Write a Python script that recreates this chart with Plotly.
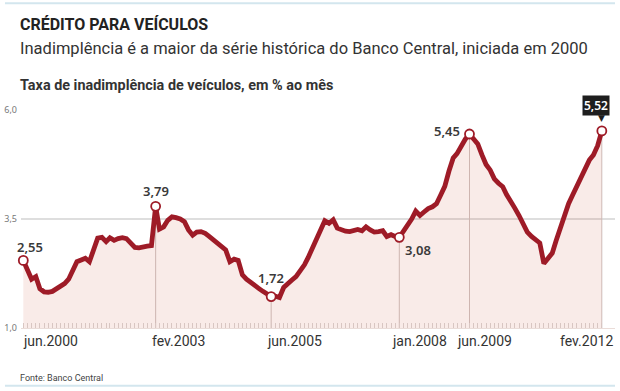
import plotly.graph_objects as go
import pandas as pd

# ---------------- data ----------------
start_month = "2000-06-01"
rate = [
    2.55, 2.35, 2.12, 2.18, 1.90, 1.83, 1.82, 1.84, 1.90, 1.95,
    2.02, 2.12, 2.35, 2.52, 2.56, 2.60, 2.52, 2.80, 3.06, 3.08,
    2.98, 3.07, 3.01, 3.05, 3.07, 3.05, 2.96, 2.85, 2.84, 2.87,
    2.88, 2.89, 3.79,
    3.27, 3.32, 3.47, 3.55, 3.53, 3.50, 3.44, 3.25, 3.13, 3.20,
    3.21, 3.17, 3.10, 3.02, 2.92, 2.84, 2.79, 2.52, 2.58, 2.55,
    2.22, 2.12, 2.04, 1.95, 1.91, 1.84, 1.78, 1.72,
    1.73, 1.70, 1.93, 2.00, 2.10, 2.18, 2.30, 2.45, 2.62, 2.85,
    3.05, 3.25, 3.46, 3.40, 3.48, 3.29, 3.25, 3.22, 3.21, 3.24,
    3.26, 3.23, 3.32, 3.25, 3.20, 3.21, 3.23, 3.10, 3.14, 3.10,
    3.08,
    3.22, 3.35, 3.50, 3.68, 3.58, 3.66, 3.74, 3.78,
    3.85, 4.05, 4.25, 4.60, 4.90, 5.00, 5.20, 5.33, 5.45,
    5.35, 5.22, 4.97, 4.75, 4.62, 4.42, 4.32, 4.24, 4.06, 3.92,
    3.75, 3.58, 3.40, 3.20, 3.10, 3.04, 2.95, 2.48, 2.60, 2.72,
    3.00, 3.30, 3.62, 3.85, 4.05, 4.25, 4.45, 4.70, 4.85, 4.97,
    5.18, 5.52,
]
months = pd.date_range(start_month, periods=len(rate), freq="MS")

key_dates = ["2000-06-01", "2003-02-01", "2005-06-01", "2008-01-01", "2009-06-01", "2012-02-01"]
key_values = [2.55, 3.79, 1.72, 3.08, 5.45, 5.52]
key_labels = ["2,55", "3,79", "1,72", "3,08", "5,45", "5,52"]

tick_labels = ["jun.2000", "fev.2003", "jun.2005", "jan.2008", "jun.2009", "fev.2012"]
y_ticks = [1.0, 3.5, 6.0]
y_tick_text = ["1,0", "3,5", "6,0"]

# ---------------- style ----------------
TXT = "Roboto, Liberation Sans, sans-serif"
NUM = "Noto Sans, Liberation Sans, sans-serif"
RED = "#9e1b27"

fig = go.Figure()

# vertical guide lines from highlighted points to the baseline
gx, gy = [], []
for d, v in zip(key_dates[1:], key_values[1:]):
    gx += [d, d, None]
    gy += [y_ticks[0], v, None]
fig.add_trace(go.Scatter(x=gx, y=gy, mode="lines",
                         line=dict(color="#cfc3c1", width=1),
                         hoverinfo="skip", showlegend=False))

# area + line
fig.add_trace(go.Scatter(x=months, y=rate, mode="lines",
                         line=dict(color=RED, width=4.8, shape="linear"),
                         fill="tozeroy", fillcolor="rgba(200,70,45,0.11)",
                         showlegend=False))

# highlighted markers
fig.add_trace(go.Scatter(x=key_dates, y=key_values, mode="markers",
                         marker=dict(size=9, color="white",
                                     line=dict(color=RED, width=1.8)),
                         cliponaxis=False, showlegend=False))

annotations = []
# value labels (pixel offsets from each point)
offsets = [(7, 13), (0, 15), (0, 19), (19, -13), (-22, 3)]
for (d, v, lab), (dx, dy) in zip(zip(key_dates, key_values, key_labels), offsets):
    annotations.append(dict(x=d, y=v, text=lab, showarrow=False,
                            xanchor="center", yanchor="middle",
                            xshift=dx, yshift=dy,
                            font=dict(family=NUM, size=13, color="#3a3a3a", weight=600)))
# last value in black box with pointer
annotations.append(dict(x=key_dates[-1], y=key_values[-1], text=key_labels[-1],
                        showarrow=False, xanchor="center", yanchor="middle",
                        xshift=-6, yshift=25, bgcolor="#1e1e1e", borderpad=1,
                        font=dict(family=NUM, size=12, color="white", weight=600)))
annotations.append(dict(x=key_dates[-1], y=key_values[-1], text="▼",
                        showarrow=False, xanchor="center", yanchor="middle",
                        xshift=0, yshift=13,
                        font=dict(family="DejaVu Sans", size=9, color="#1e1e1e")))

# x-axis labels
label_shift = [(-2, "left"), (-6, "left"), (-6, "left"), (-9, "left"), (-14, "left"), (13, "right")]
for d, lab, (dx, anc) in zip(key_dates, tick_labels, label_shift):
    annotations.append(dict(x=d, y=-0.06, yref="paper", text=lab, showarrow=False,
                            xanchor=anc, yanchor="middle", xshift=dx,
                            font=dict(family=TXT, size=14, color="#333333")))

# titles and source
annotations += [
    dict(x=-0.005, y=1.39, xref="paper", yref="paper", text="<b>CRÉDITO PARA VEÍCULOS</b>",
         showarrow=False, xanchor="left", yanchor="middle",
         font=dict(family=TXT, size=16, color="#222222")),
    dict(x=-0.005, y=1.283, xref="paper", yref="paper",
         text="Inadimplência é a maior da série histórica do Banco Central, iniciada em 2000",
         showarrow=False, xanchor="left", yanchor="middle",
         font=dict(family=TXT, size=16.5, color="#333333")),
    dict(x=-0.005, y=1.112, xref="paper", yref="paper",
         text="<b>Taxa de inadimplência de veículos, em % ao mês</b>",
         showarrow=False, xanchor="left", yanchor="middle",
         font=dict(family=TXT, size=14.4, color="#333333")),
    dict(x=-0.005, y=-0.228, xref="paper", yref="paper", text="Fonte: Banco Central",
         showarrow=False, xanchor="left", yanchor="middle",
         font=dict(family=TXT, size=9, color="#444444")),
]

shapes = [
    dict(type="line", xref="paper", yref="paper", x0=-0.027, x1=1.0, y0=1.49, y1=1.49,
         line=dict(color="#d3e6ee", width=2)),
    dict(type="line", xref="paper", yref="paper", x0=-0.027, x1=1.0, y0=-0.265, y1=-0.265,
         line=dict(color="#d3e6ee", width=2)),
]

fig.update_layout(
    width=620, height=391,
    margin=dict(l=21, r=5, t=110, b=63),
    paper_bgcolor="white", plot_bgcolor="white",
    annotations=annotations, shapes=shapes,
    showlegend=False,
    xaxis=dict(type="date", range=["2000-05-15", "2012-05-08"],
               showgrid=False, zeroline=False, showticklabels=False,
               ticks="", showline=True, linecolor="#eadcd8", linewidth=1,
               minor=dict(tickmode="array", tickvals=list(months), ticks="inside",
                          ticklen=5, tickwidth=1, tickcolor="#d8c6c2", showgrid=False)),
    yaxis=dict(range=[1.0, 6.0], tickmode="array", tickvals=y_ticks, ticktext=y_tick_text,
               showgrid=True, gridcolor="#dedede", gridwidth=1.5, zeroline=False,
               ticks="", ticklabelstandoff=3, showline=False,
               tickfont=dict(family=NUM, size=9, color="#777777")),
)

fig.write_html("out.html", config={"displayModeBar": False},
               post_script="document.body.style.margin='0px';document.body.style.overflow='hidden';")
